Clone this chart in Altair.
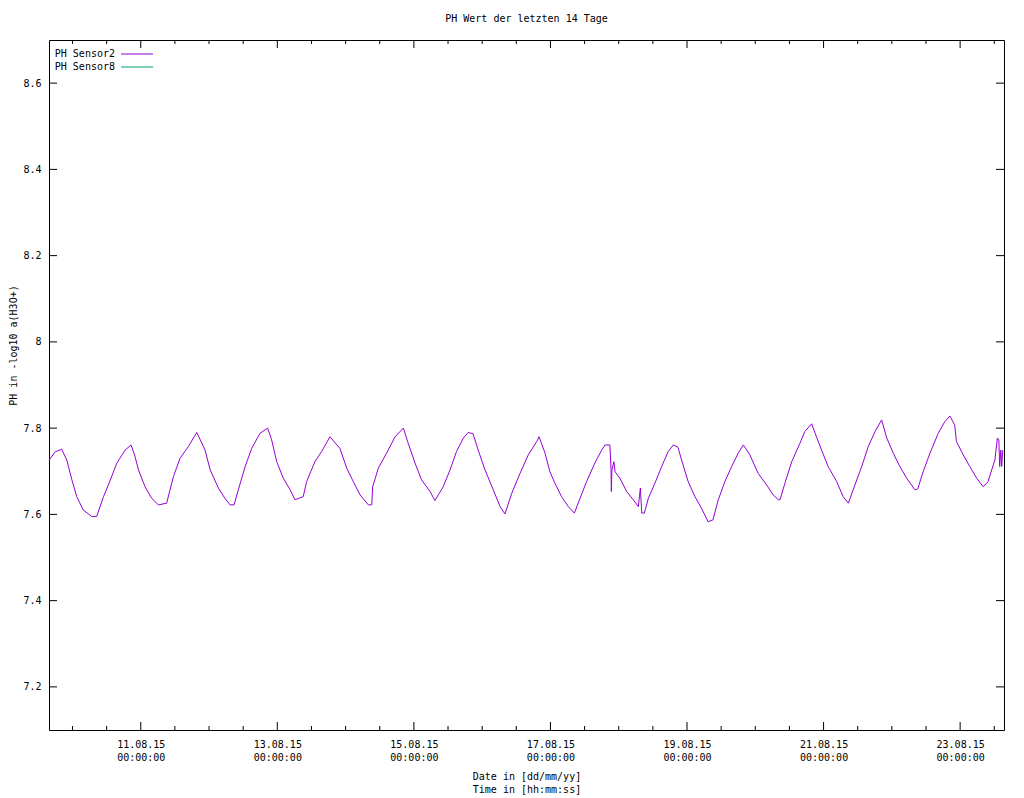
import altair as alt
import pandas as pd

FONT = "DejaVu Sans Mono"

series_names = ["PH Sensor2", "PH Sensor8"]
series_colors = ["#9400d3", "#009e73"]

times = [
    "2015-08-09T15:48", "2015-08-09T17:54", "2015-08-09T20:12", "2015-08-09T22:00", "2015-08-09T23:48",
    "2015-08-10T01:30", "2015-08-10T03:48", "2015-08-10T06:48", "2015-08-10T08:30", "2015-08-10T10:54",
    "2015-08-10T12:36", "2015-08-10T15:36", "2015-08-10T18:30", "2015-08-10T20:36", "2015-08-10T22:00",
    "2015-08-10T23:12", "2015-08-11T01:30", "2015-08-11T03:54", "2015-08-11T06:12", "2015-08-11T09:06",
    "2015-08-11T11:30", "2015-08-11T13:48", "2015-08-11T16:42", "2015-08-11T19:42", "2015-08-11T22:36",
    "2015-08-12T00:24", "2015-08-12T03:18", "2015-08-12T05:36", "2015-08-12T07:24", "2015-08-12T08:48",
    "2015-08-12T10:18", "2015-08-12T12:42", "2015-08-12T15:00", "2015-08-12T17:54", "2015-08-12T20:36",
    "2015-08-12T22:00", "2015-08-12T23:48", "2015-08-13T02:06", "2015-08-13T04:30", "2015-08-13T06:12",
    "2015-08-13T09:06", "2015-08-13T10:18", "2015-08-13T13:12", "2015-08-13T15:36", "2015-08-13T18:30",
    "2015-08-13T22:00", "2015-08-14T00:24", "2015-08-14T02:42", "2015-08-14T05:06", "2015-08-14T08:00",
    "2015-08-14T09:12", "2015-08-14T09:30", "2015-08-14T11:30", "2015-08-14T14:24", "2015-08-14T17:24",
    "2015-08-14T20:18", "2015-08-14T22:00", "2015-08-15T00:24", "2015-08-15T02:42", "2015-08-15T05:42",
    "2015-08-15T07:24", "2015-08-15T10:18", "2015-08-15T12:42", "2015-08-15T15:00", "2015-08-15T17:24",
    "2015-08-15T19:06", "2015-08-15T20:48", "2015-08-15T22:36", "2015-08-16T01:00", "2015-08-16T03:54",
    "2015-08-16T06:18", "2015-08-16T08:00", "2015-08-16T10:24", "2015-08-16T13:18", "2015-08-16T16:12",
    "2015-08-16T19:12", "2015-08-16T20:00", "2015-08-16T22:06", "2015-08-16T23:48", "2015-08-17T01:36",
    "2015-08-17T03:54", "2015-08-17T06:18", "2015-08-17T08:24", "2015-08-17T10:24", "2015-08-17T12:42",
    "2015-08-17T15:36", "2015-08-17T18:00", "2015-08-17T19:12", "2015-08-17T20:54", "2015-08-17T21:18",
    "2015-08-17T21:24", "2015-08-17T21:36", "2015-08-17T22:18", "2015-08-17T22:42", "2015-08-18T00:24",
    "2015-08-18T02:48", "2015-08-18T05:06", "2015-08-18T06:54", "2015-08-18T07:36", "2015-08-18T08:06",
    "2015-08-18T09:00", "2015-08-18T10:24", "2015-08-18T12:42", "2015-08-18T15:06", "2015-08-18T17:24",
    "2015-08-18T19:12", "2015-08-18T20:48", "2015-08-18T22:06", "2015-08-19T00:24", "2015-08-19T02:48",
    "2015-08-19T05:06", "2015-08-19T07:24", "2015-08-19T09:06", "2015-08-19T11:00", "2015-08-19T13:18",
    "2015-08-19T15:42", "2015-08-19T18:00", "2015-08-19T19:48", "2015-08-19T22:06", "2015-08-20T01:00",
    "2015-08-20T04:00", "2015-08-20T06:18", "2015-08-20T08:06", "2015-08-20T08:42", "2015-08-20T10:24",
    "2015-08-20T12:48", "2015-08-20T15:42", "2015-08-20T17:24", "2015-08-20T19:48", "2015-08-20T21:30",
    "2015-08-20T23:18", "2015-08-21T01:36", "2015-08-21T04:36", "2015-08-21T06:54", "2015-08-21T08:42",
    "2015-08-21T11:00", "2015-08-21T13:24", "2015-08-21T15:42", "2015-08-21T18:06", "2015-08-21T20:24",
    "2015-08-21T22:12", "2015-08-22T00:30", "2015-08-22T02:48", "2015-08-22T05:12", "2015-08-22T08:06",
    "2015-08-22T09:06", "2015-08-22T11:00", "2015-08-22T13:24", "2015-08-22T16:18", "2015-08-22T18:36",
    "2015-08-22T20:24", "2015-08-22T22:06", "2015-08-22T22:42", "2015-08-23T01:06", "2015-08-23T03:24",
    "2015-08-23T05:48", "2015-08-23T08:06", "2015-08-23T09:48", "2015-08-23T12:12", "2015-08-23T13:06",
    "2015-08-23T13:36", "2015-08-23T13:54", "2015-08-23T14:18", "2015-08-23T14:36", "2015-08-23T15:00",
]

ph_sensor2 = [
    7.726, 7.745, 7.751, 7.726, 7.680,
    7.641, 7.610, 7.595, 7.595, 7.641,
    7.668, 7.719, 7.749, 7.761, 7.734,
    7.703, 7.664, 7.637, 7.622, 7.626,
    7.688, 7.730, 7.757, 7.790, 7.749,
    7.703, 7.661, 7.637, 7.622, 7.622,
    7.657, 7.711, 7.753, 7.788, 7.800,
    7.773, 7.722, 7.684, 7.657, 7.634,
    7.641, 7.676, 7.722, 7.746, 7.780,
    7.753, 7.707, 7.676, 7.645, 7.622,
    7.622, 7.664, 7.707, 7.742, 7.780,
    7.800, 7.765, 7.719, 7.680, 7.653,
    7.632, 7.664, 7.703, 7.746, 7.777,
    7.790, 7.787, 7.749, 7.703, 7.657,
    7.618, 7.601, 7.649, 7.695, 7.738,
    7.769, 7.780, 7.742, 7.699, 7.672,
    7.641, 7.618, 7.603, 7.637, 7.676,
    7.719, 7.749, 7.761, 7.761, 7.703,
    7.653, 7.703, 7.722, 7.699, 7.684,
    7.653, 7.634, 7.618, 7.661, 7.603,
    7.603, 7.637, 7.672, 7.711, 7.746,
    7.761, 7.756, 7.726, 7.676, 7.641,
    7.614, 7.583, 7.587, 7.634, 7.676,
    7.711, 7.742, 7.761, 7.738, 7.695,
    7.668, 7.645, 7.634, 7.634, 7.672,
    7.722, 7.765, 7.792, 7.810, 7.780,
    7.749, 7.711, 7.676, 7.641, 7.626,
    7.668, 7.711, 7.757, 7.792, 7.819,
    7.777, 7.742, 7.711, 7.684, 7.657,
    7.659, 7.699, 7.742, 7.788, 7.815,
    7.828, 7.807, 7.769, 7.738, 7.711,
    7.684, 7.664, 7.676, 7.726, 7.777,
    7.773, 7.711, 7.749, 7.711, 7.749,
]

label_days = [11, 13, 15, 17, 19, 21, 23]
y_tick_values = [7.2, 7.4, 7.6, 7.8, 8.0, 8.2, 8.4, 8.6]
y_domain = [7.1, 8.7]

df = pd.DataFrame({
    "t": [s + "Z" for s in times],
    "v": ph_sensor2,
    "series": series_names[0],
})

major_x = [f"2015-08-{d:02d}T00:00Z" for d in label_days]
minor_x = [ts.strftime("%Y-%m-%dT%H:%MZ")
           for ts in pd.date_range("2015-08-10 00:00", "2015-08-23 12:00", freq="12h")]
minor_x = [m for m in minor_x if m not in major_x]
major_df = pd.DataFrame({"t": major_x})
minor_df = pd.DataFrame({"t": minor_x})
ytick_df = pd.DataFrame({"v": y_tick_values})

W, H = 955, 690

xscale = alt.Scale(type="utc", domain=[
    alt.DateTime(year=2015, month=8, date=9, hours=15, minutes=45, utc=True),
    alt.DateTime(year=2015, month=8, date=23, hours=15, minutes=25, utc=True),
])
yscale = alt.Scale(domain=y_domain, zero=False, nice=False)

xaxis = alt.Axis(
    values=[alt.DateTime(year=2015, month=8, date=d, utc=True) for d in label_days],
    labelExpr="[utcFormat(datum.value, '%d.%m.%y'), utcFormat(datum.value, '%H:%M:%S')]",
    ticks=False, domain=False, grid=False,
    labelFont=FONT, labelFontSize=10, labelColor="black", labelPadding=9,
    labelLineHeight=13, labelBaseline="top",
    title=["Date in [dd/mm/yy]", "Time in [hh:mm:ss]"],
    titleFont=FONT, titleFontSize=10, titleFontWeight="normal", titleColor="black",
    titleLineHeight=13, titleX=W / 2, titleY=41, titleBaseline="top", titleAlign="center",
)
yaxis = alt.Axis(
    values=y_tick_values, format="~g",
    ticks=False, domain=False, grid=False,
    labelFont=FONT, labelFontSize=10, labelColor="black", labelPadding=8,
    title="PH in -log10 a(H3O+)",
    titleFont=FONT, titleFontSize=10, titleFontWeight="normal", titleColor="black",
    titleX=-36, titleY=305, titleAlign="center", titleBaseline="middle",
)

line = alt.Chart(df).mark_line(strokeWidth=1).encode(
    x=alt.X("t:T", scale=xscale, axis=xaxis),
    y=alt.Y("v:Q", scale=yscale, axis=yaxis),
    color=alt.Color(
        "series:N",
        scale=alt.Scale(domain=series_names, range=series_colors),
        legend=alt.Legend(
            orient="none", legendX=83, legendY=9, title=None,
            symbolType="M-4,0H4", symbolSize=64, symbolStrokeWidth=1,
            labelAlign="right", labelOffset={"expr": "-27"},
            labelFont=FONT, labelFontSize=10, labelColor="black",
            padding=0, rowPadding=3,
        ),
    ),
)

def xticks(data, length, top):
    if top:
        yv, y2v = alt.value(0), alt.value(length)
    else:
        yv, y2v = alt.value(H), alt.value(H - length)
    return alt.Chart(data).mark_rule(color="black", strokeWidth=1).encode(
        x=alt.X("t:T", scale=xscale, axis=xaxis), y=yv, y2=y2v)

def yticks(right):
    if right:
        xv, x2v = alt.value(W), alt.value(W - 8)
    else:
        xv, x2v = alt.value(0), alt.value(8)
    return alt.Chart(ytick_df).mark_rule(color="black", strokeWidth=1).encode(
        y=alt.Y("v:Q", scale=yscale, axis=yaxis), x=xv, x2=x2v)

chart = alt.layer(
    xticks(major_df, 8, False), xticks(major_df, 8, True),
    xticks(minor_df, 4, False), xticks(minor_df, 4, True),
    yticks(False), yticks(True),
    line,
).properties(
    width=W, height=H,
    autosize=alt.AutoSizeParams(type="none"),
    padding={"left": 41, "top": 32, "right": 12, "bottom": 68},
    title=alt.TitleParams(
        "PH Wert der letzten 14 Tage", font=FONT, fontSize=10, fontWeight="normal",
        color="black", anchor="middle", offset=16,
    ),
).configure_view(stroke="black", strokeWidth=1)

chart.save("out.html", embed_options={"renderer": "svg", "actions": False})
